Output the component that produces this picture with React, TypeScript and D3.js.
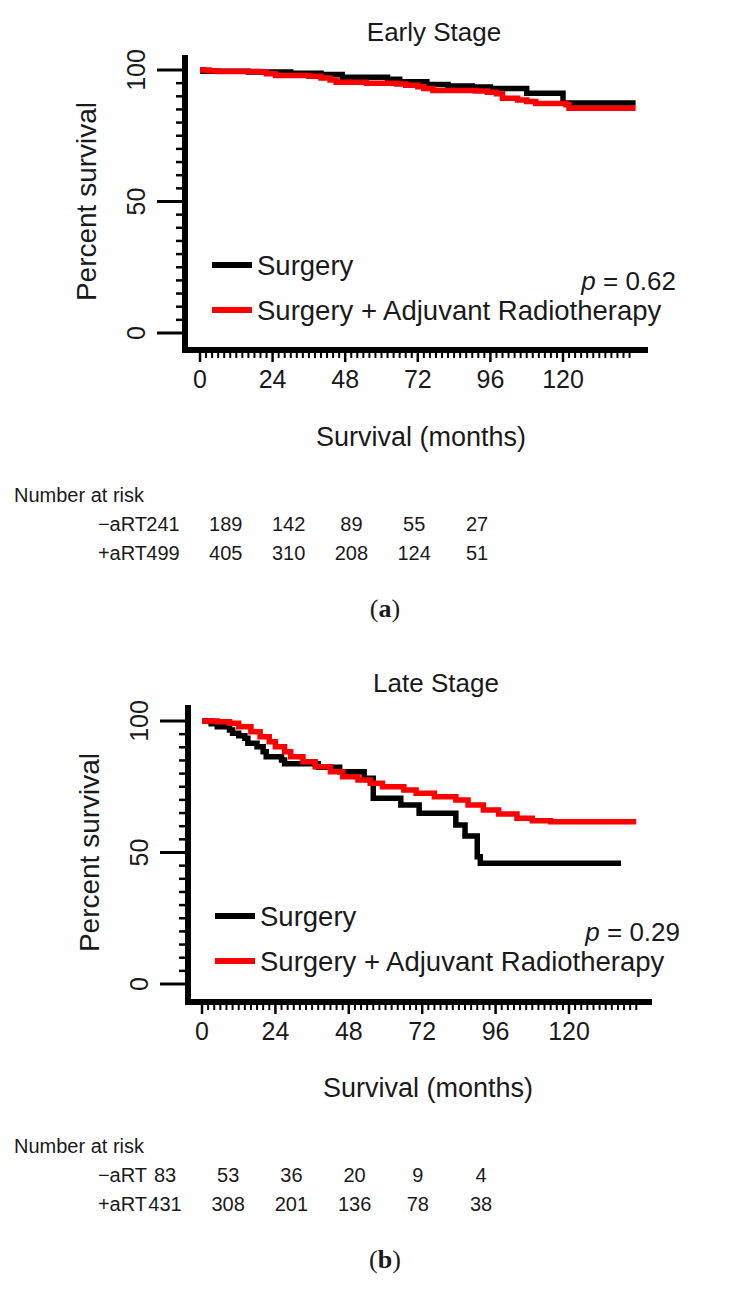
import React from "react";
import * as d3 from "d3";

// ---------- data ----------
const xTickValues = [0, 24, 48, 72, 96, 120];
const yTickValues = [0, 50, 100];
const riskTimes = [0, 24, 48, 72, 96, 120];

const earlyTitle = "Early Stage";
const lateTitle = "Late Stage";

const earlySurgery: [number, number][] = [
  [0, 100], [1, 99.5], [16, 99.2], [30, 98.8], [40, 98.3], [47, 97.2], [62, 96.5],
  [66, 95.5], [75, 94.5], [82, 93.9], [90, 93.5], [96, 93.0], [108, 91.2], [120, 87.5], [144, 87.5],
];
const earlyAdjuvant: [number, number][] = [
  [0, 100], [3, 99.7], [6, 99.4], [20, 99.2], [22, 98.6], [25, 97.9], [36, 97.6], [40, 97.0],
  [43, 96.2], [45, 95.3], [55, 95.0], [65, 94.7], [68, 94.2], [72, 93.6], [74, 93.0], [77, 92.2],
  [91, 92.0], [95, 91.5], [98, 91.0], [100, 89.3], [105, 88.6], [108, 88.0], [111, 87.3],
  [121, 86.8], [122, 85.5], [144, 85.5],
];

const lateSurgery: [number, number][] = [
  [0, 100], [3, 99], [5, 97.8], [9, 96.6], [10, 95.3], [12, 94.4], [14, 93.4], [15, 91.5],
  [18, 90.2], [20, 88.3], [21, 86.4], [26, 85.2], [27, 83.7], [38, 82.4], [45, 80.7], [53, 78.2],
  [56, 70.6], [65, 68.1], [71, 64.9], [83, 60.5], [86, 56.3], [90, 48.4], [91, 45.9], [137, 45.9],
];
const lateAdjuvant: [number, number][] = [
  [0, 100], [5, 99.7], [9, 99.1], [12, 97.8], [16, 95.9], [19, 94], [22, 92.1], [24, 90.2],
  [27, 88.3], [29, 86.4], [33, 84.5], [37, 82.6], [42, 80.7], [46, 78.8], [51, 77.6], [55, 76.3],
  [59, 75.0], [66, 73.8], [70, 72.5], [76, 71.2], [83, 70.0], [87, 68.1], [92, 66.2], [97, 64.6],
  [103, 63.0], [108, 62.1], [114, 61.7], [142, 61.7],
];

const earlyRiskMinus = [241, 189, 142, 89, 55, 27];
const earlyRiskPlus = [499, 405, 310, 208, 124, 51];
const lateRiskMinus = [83, 53, 36, 20, 9, 4];
const lateRiskPlus = [431, 308, 201, 136, 78, 38];

const earlyP = "0.62";
const lateP = "0.29";

const legendLabels = ["Surgery", "Surgery + Adjuvant Radiotherapy"];
const seriesColors = ["#000000", "#ff0000"];

// ---------- layout ----------
const FONT = "'Liberation Sans', Arial, Helvetica, sans-serif";
const TXT = "#1a1a1a";

type Cfg = {
  dy: number;
  x0: number; x120: number;
  yAxisX: number;
  y0: number; y100: number;
  axisTop: number; axisBottom: number; axisRight: number;
  tableX0: number; tableX120: number;
  titleX: number; xTitleX: number; pRight: number;
};

function Panel({ cfg, title, s1, s2, riskA, riskB, p, tag }: {
  cfg: Cfg; title: string; s1: [number, number][]; s2: [number, number][];
  riskA: number[]; riskB: number[]; p: string; tag: string;
}) {
  const { dy } = cfg;
  const x = d3.scaleLinear().domain([0, 120]).range([cfg.x0, cfg.x120]);
  const y = d3.scaleLinear().domain([0, 100]).range([cfg.y0 + dy, cfg.y100 + dy]);
  const tx = d3.scaleLinear().domain([0, 120]).range([cfg.tableX0, cfg.tableX120]);
  const line = d3.line<[number, number]>().x(d => x(d[0])).y(d => y(d[1])).curve(d3.curveStepAfter);
  const axisY = cfg.axisBottom + dy;
  const minorY = d3.range(5, 100, 5).filter(v => v !== 50);
  const minorX = d3.range(0, 143, 2).filter(v => v % 24 !== 0);
  const ax = cfg.yAxisX;
  const sh = ax - 185;
  return (
    <g>
      <text x={cfg.titleX} y={41 + dy} fontSize={26} textAnchor="middle" fill={TXT} fontFamily={FONT}>{title}</text>
      <text transform={`translate(${96 + sh},${y(50)}) rotate(-90)`} fontSize={28} textAnchor="middle" fill={TXT} fontFamily={FONT}>Percent survival</text>
      <path d={line(s1) || ""} fill="none" stroke={seriesColors[0]} strokeWidth={5.5} />
      <path d={line(s2) || ""} fill="none" stroke={seriesColors[1]} strokeWidth={5.5} />
      {minorY.map(v => (
        <line key={"my" + v} x1={ax - 9} x2={ax} y1={y(v)} y2={y(v)} stroke="#000" strokeWidth={2.5} />
      ))}
      {yTickValues.map(v => (
        <g key={"y" + v}>
          <line x1={ax - 28} x2={ax} y1={y(v)} y2={y(v)} stroke="#000" strokeWidth={3} />
          <text transform={`translate(${ax - 40},${y(v)}) rotate(-90)`} fontSize={25} textAnchor="middle" fill={TXT} fontFamily={FONT}>{v}</text>
        </g>
      ))}
      {minorX.map(v => (
        <line key={"mx" + v} x1={x(v)} x2={x(v)} y1={axisY} y2={axisY + 8} stroke="#000" strokeWidth={2} />
      ))}
      {xTickValues.map(v => (
        <g key={"x" + v}>
          <line x1={x(v)} x2={x(v)} y1={axisY} y2={axisY + 12} stroke="#000" strokeWidth={2.5} />
          <text x={x(v)} y={axisY + 38} fontSize={25} textAnchor="middle" fill={TXT} fontFamily={FONT}>{v}</text>
        </g>
      ))}
      <line x1={ax} x2={ax} y1={cfg.axisTop + dy} y2={axisY + 3} stroke="#000" strokeWidth={6} />
      <line x1={ax - 3} x2={cfg.axisRight} y1={axisY} y2={axisY} stroke="#000" strokeWidth={6} />
      <text x={cfg.xTitleX} y={446 + dy} fontSize={27} textAnchor="middle" fill={TXT} fontFamily={FONT}>Survival (months)</text>
      {legendLabels.map((lab, i) => (
        <g key={lab}>
          <line x1={212 + sh} x2={252 + sh} y1={265 + 45 * i + dy} y2={265 + 45 * i + dy} stroke={seriesColors[i]} strokeWidth={6} />
          <text x={257 + sh} y={275 + 45 * i + dy} fontSize={27.5} fill={TXT} fontFamily={FONT}>{lab}</text>
        </g>
      ))}
      <text x={cfg.pRight} y={290 + dy} fontSize={26} textAnchor="end" fill={TXT} fontFamily={FONT}>
        <tspan fontStyle="italic">p</tspan> = {p}
      </text>
      <text x={14} y={502 + dy} fontSize={20} fill={TXT} fontFamily={FONT}>Number at risk</text>
      <text x={147} y={531 + dy} fontSize={20} textAnchor="end" fill={TXT} fontFamily={FONT}>−aRT</text>
      <text x={147} y={560 + dy} fontSize={20} textAnchor="end" fill={TXT} fontFamily={FONT}>+aRT</text>
      {riskTimes.map((t, i) => (
        <g key={"r" + t}>
          <text x={tx(t)} y={531 + dy} fontSize={20} textAnchor="middle" fill={TXT} fontFamily={FONT}>{riskA[i]}</text>
          <text x={tx(t)} y={560 + dy} fontSize={20} textAnchor="middle" fill={TXT} fontFamily={FONT}>{riskB[i]}</text>
        </g>
      ))}
      <text x={385} y={617 + dy} fontSize={26} textAnchor="middle" fill={TXT} fontFamily="'Liberation Serif', 'Times New Roman', serif">
        (<tspan fontWeight="bold">{tag}</tspan>)
      </text>
    </g>
  );
}

const topCfg: Cfg = {
  dy: 0, x0: 200, x120: 563, yAxisX: 185, y0: 333, y100: 70,
  axisTop: 55, axisBottom: 350, axisRight: 648, tableX0: 163, tableX120: 477,
  titleX: 434, xTitleX: 421, pRight: 676,
};
const botCfg: Cfg = {
  dy: 651, x0: 202, x120: 569, yAxisX: 188, y0: 333, y100: 70,
  axisTop: 54, axisBottom: 351, axisRight: 652, tableX0: 165, tableX120: 481,
  titleX: 436, xTitleX: 428, pRight: 680,
};

export default function App() {
  return (
    <div style={{ position: "absolute", left: 0, top: 0 }}>
      <svg width={730} height={1291} viewBox="0 0 730 1291" style={{ display: "block", background: "#fff" }}>
        <rect x={0} y={0} width={730} height={1291} fill="#fff" />
        <Panel cfg={topCfg} title={earlyTitle} s1={earlySurgery} s2={earlyAdjuvant}
          riskA={earlyRiskMinus} riskB={earlyRiskPlus} p={earlyP} tag="a" />
        <Panel cfg={botCfg} title={lateTitle} s1={lateSurgery} s2={lateAdjuvant}
          riskA={lateRiskMinus} riskB={lateRiskPlus} p={lateP} tag="b" />
      </svg>
    </div>
  );
}
